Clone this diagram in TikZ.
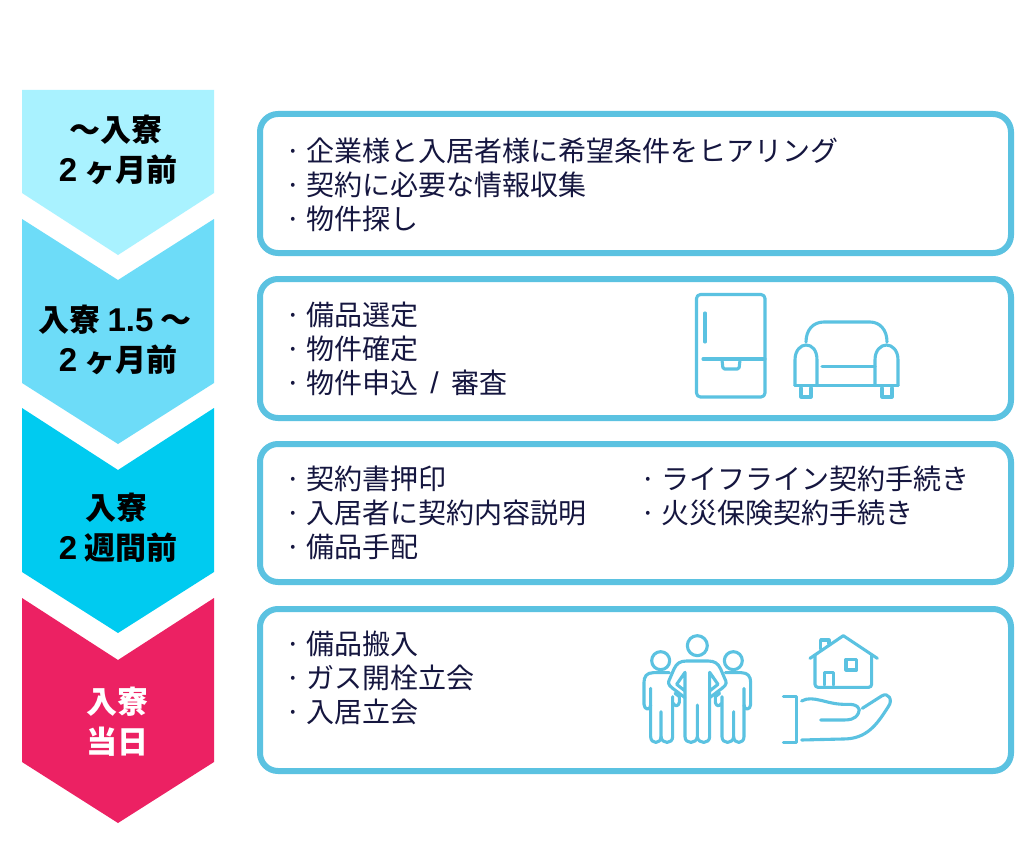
\documentclass[tikz,border=0pt]{standalone}
\usepackage{fontspec}
\setmainfont{Noto Sans CJK JP}
\newfontfamily\digitfont{Liberation Sans}
\usetikzlibrary{calc}
\definecolor{lineblue}{HTML}{5BC2E1}
\definecolor{navy}{HTML}{15163F}
\definecolor{stepA}{HTML}{A9F2FF}
\definecolor{stepB}{HTML}{6DDCF8}
\definecolor{stepC}{HTML}{00CBF0}
\definecolor{stepD}{HTML}{EC2163}
\newcommand{\itm}{\makebox[25pt][c]{·}}
\newcommand{\dg}[1]{{\digitfont\fontsize{33}{40}\selectfont\bfseries #1}}
\tikzset{
  panel/.style={draw=lineblue,line width=6pt,rounded corners=18pt,fill=white},
  steplabel/.style={font=\fontsize{31}{40}\selectfont\bfseries,align=center,inner sep=0pt,text=black},
  itemtext/.style={font=\fontsize{28}{34}\selectfont,align=left,inner sep=0pt,text=navy,anchor=west},
  icon/.style={draw=lineblue,line width=3.1pt,line cap=round,line join=round},
}
\begin{document}
\begin{tikzpicture}[x=1pt,y=-1pt]
\useasboundingbox (0,0) rectangle (1036,856);
\fill[white] (0,0) rectangle (1036,856);
% chevrons
\fill[stepA] (22,90) -- (214,90) -- (214,193) -- (118,255) -- (22,193) -- cycle;
\fill[stepB] (22,219) -- (118,280) -- (214,219) -- (214,383) -- (118,444) -- (22,383) -- cycle;
\fill[stepC] (22,408) -- (118,470) -- (214,408) -- (214,572) -- (118,633) -- (22,572) -- cycle;
\fill[stepD] (22,598) -- (118,660) -- (214,598) -- (214,762) -- (118,823) -- (22,762) -- cycle;
\node[steplabel] (la) at (116,150) {〜入寮\\\hspace*{4pt}\dg{2} ヶ月前};
\node[steplabel] (lb) at (115,340) {入寮 \dg{1.5} 〜\\\hspace*{6pt}\dg{2} ヶ月前};
\node[steplabel] (lc) at (118,528) {\hspace*{-4pt}入寮\\\dg{2} 週間前};
\node[steplabel,text=white] (ld) at (117,722) {入寮\\当日};
% panels
\draw[panel] (260,114) rectangle (1011,253);
\draw[panel] (260,279) rectangle (1011,418);
\draw[panel] (260,444) rectangle (1011,582);
\draw[panel] (260,609) rectangle (1011,771);
% texts
\node[itemtext] (ta) at (281,185) {\itm 企業様と入居者様に希望条件をヒアリング\\\itm 契約に必要な情報収集\\\itm 物件探し};
\node[itemtext] (tb) at (281,349) {\itm 備品選定\\\itm 物件確定\\\itm 物件申込\hspace{6pt} {\digitfont\fontsize{30}{34}\selectfont /} \hspace{6pt}審査};
\node[itemtext] (tc) at (281,513) {\itm 契約書押印\\\itm 入居者に契約内容説明\\\itm 備品手配};
\node[itemtext] (td) at (636,496) {\itm ライフライン契約手続き\\\itm 火災保険契約手続き};
\node[itemtext] (te) at (281,678) {\itm 備品搬入\\\itm ガス開栓立会\\\itm 入居立会};
% fridge
\draw[icon,rounded corners=4pt] (696.5,294.5) rectangle (765,397);
\draw[icon] (705,313) -- (705,342);
\draw[icon] (703,359) -- (765,359);
\draw[icon,rounded corners=1.5pt] (722,360) -- (723,369) -- (739,369) -- (740,360);
% sofa
\draw[icon] (806,342) .. controls (806,330) and (813,322) .. (824,322) -- (870,322) .. controls (880,322) and (887,330) .. (887,342);
\draw[icon] (795,385.5) -- (795,360) .. controls (795,350) and (801,345) .. (806,345) .. controls (812,345) and (817,350) .. (817,360) -- (817,385.5);
\draw[icon] (875,385.5) -- (875,360) .. controls (875,350) and (881,345) .. (886.5,345) .. controls (892,345) and (898,350) .. (898,360) -- (898,385.5);
\draw[icon] (795,385.5) -- (898,385.5);
\draw[icon] (822,366.7) -- (875,366.7);
\draw[icon] (801,388) -- (801,397) -- (811,397) -- (811,388);
\draw[icon] (882,388) -- (882,397) -- (892,397) -- (892,388);
% people
\begin{scope}[shift={(630,625)},x=0.3333pt,y=-0.3333pt]
\draw[icon] (202,62) circle[radius=30];
\draw[icon] (92,107) circle[radius=27];
\draw[icon] (310,107) circle[radius=27];
% centre figure
\draw[icon] (202,240) -- (202,335) .. controls (200,358) and (165,358) .. (165,335) -- (165,142) -- (140,178) -- (165,198);
\draw[icon] (202,335) .. controls (204,358) and (239,358) .. (239,335) -- (239,142) -- (264,178) -- (239,198);
\draw[icon] (165,218) -- (128,190) .. controls (112,178) and (114,172) .. (120,160) -- (132,132) .. controls (140,115) and (150,108) .. (170,108) -- (234,108) .. controls (254,108) and (264,115) .. (272,132) -- (284,160) .. controls (290,172) and (292,178) .. (276,190) -- (239,218);
% left figure
\draw[icon] (118,143) -- (70,143) .. controls (50,143) and (42,155) .. (42,172) -- (42,238) .. controls (42,255) and (62,258) .. (62,240);
\draw[icon] (62,190) -- (62,335) .. controls (62,358) and (93,358) .. (93,335) -- (93,260);
\draw[icon] (93,335) .. controls (95,358) and (128,358) .. (128,335) -- (128,215);
\draw[icon] (135,205) -- (148,215) -- (148,232) .. controls (146,245) and (134,245) .. (130,235);
% right figure
\draw[icon] (286,143) -- (334,143) .. controls (354,143) and (362,155) .. (362,172) -- (362,238) .. controls (362,255) and (342,258) .. (342,240);
\draw[icon] (342,190) -- (342,335) .. controls (342,358) and (311,358) .. (311,335) -- (311,260);
\draw[icon] (311,335) .. controls (309,358) and (276,358) .. (276,335) -- (276,215);
\draw[icon] (269,205) -- (256,215) -- (256,232) .. controls (258,245) and (270,245) .. (274,235);
% house
\draw[icon] (540,100) -- (640,32) -- (742,100);
\draw[icon] (572,72) -- (572,45) -- (597,45) -- (597,56);
\draw[icon,rounded corners=3pt] (555,92) -- (555,187) -- (725,187) -- (725,90);
\draw[icon] (583,180) -- (583,142) -- (610,142) -- (610,180);
\draw[icon] (648,103) rectangle (680,135);
% hand
\draw[icon] (460,215) -- (500,215) -- (500,352) -- (460,352);
\draw[icon] (515,228) .. controls (550,208) and (590,240) .. (650,238) .. controls (680,236) and (695,250) .. (685,265) .. controls (675,285) and (655,285) .. (640,285) -- (572,285);
\draw[icon] (697,250) -- (755,213) .. controls (775,200) and (790,225) .. (775,245) .. controls (740,300) and (710,342) .. (640,342) -- (515,345);
\end{scope}
\end{tikzpicture}
\end{document}
